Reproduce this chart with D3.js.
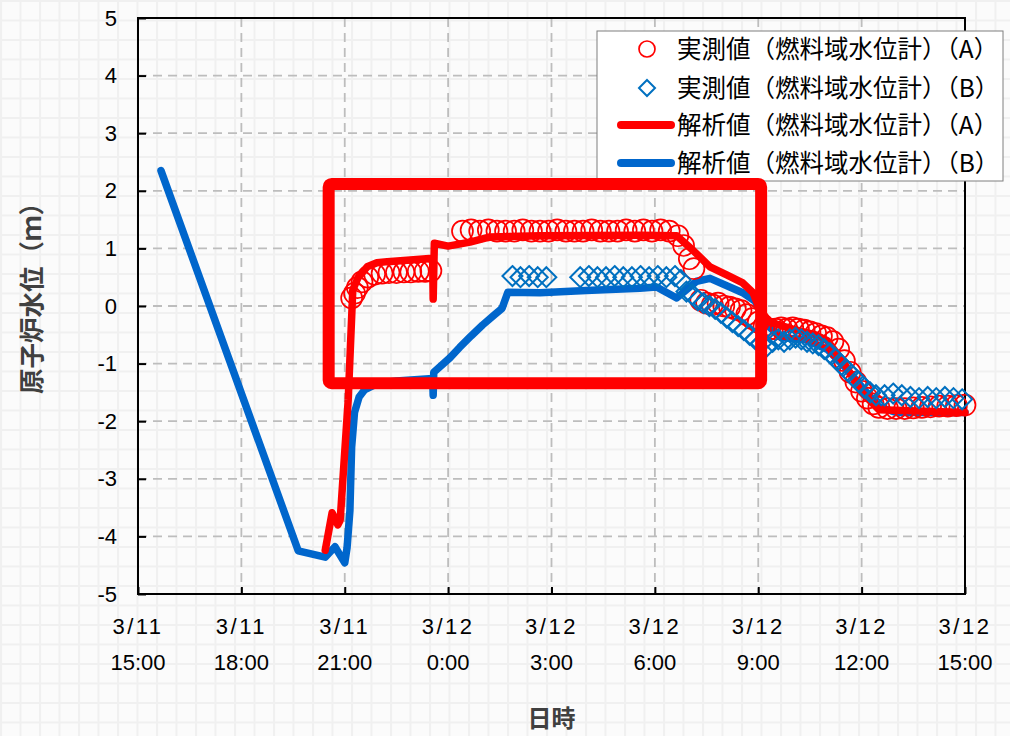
<!DOCTYPE html>
<html>
<head>
<meta charset="utf-8">
<script src="https://cdn.jsdelivr.net/npm/d3@7"></script>
<style>
  body { margin: 0; background: #fafafa; }
  svg { display: block; }
</style>
</head>
<body>
<script>
// analysis (line) and measured (marker) series, [time, level m]
const lineA = [
  ["3/11 20:26", -4.24], ["3/11 20:38", -3.59], ["3/11 20:48", -3.80], ["3/11 20:52", -3.72],
  ["3/11 21:06", -1.63], ["3/11 21:14", 0.28], ["3/11 21:23", 0.49], ["3/11 21:39", 0.68],
  ["3/11 21:56", 0.75], ["3/11 22:14", 0.77], ["3/11 22:54", 0.80], ["3/11 23:33", 0.83],
  ["3/11 23:34", 0.12], ["3/11 23:36", 1.09], ["3/12 0:00", 1.04], ["3/12 0:38", 1.11],
  ["3/12 1:13", 1.20], ["3/12 2:40", 1.22], ["3/12 5:34", 1.23], ["3/12 6:38", 1.22],
  ["3/12 7:06", 0.97], ["3/12 7:36", 0.68], ["3/12 8:05", 0.54], ["3/12 8:33", 0.40],
  ["3/12 8:51", 0.23], ["3/12 9:03", -0.07], ["3/12 9:20", -0.28], ["3/12 10:00", -0.40],
  ["3/12 10:40", -0.50], ["3/12 11:00", -0.60], ["3/12 11:30", -1.00], ["3/12 12:00", -1.50],
  ["3/12 12:30", -1.80], ["3/12 15:00", -1.85]
];
const lineB = [
  ["3/11 15:40", 2.35], ["3/11 19:39", -4.25], ["3/11 20:26", -4.36], ["3/11 20:43", -4.18],
  ["3/11 21:00", -4.46], ["3/11 21:04", -4.20], ["3/11 21:09", -3.55], ["3/11 21:12", -2.45],
  ["3/11 21:17", -1.85], ["3/11 21:25", -1.58], ["3/11 21:35", -1.45], ["3/11 21:56", -1.35],
  ["3/11 22:30", -1.30], ["3/11 23:33", -1.26], ["3/11 23:34", -1.55], ["3/11 23:35", -1.15],
  ["3/12 0:03", -0.90], ["3/12 0:20", -0.72], ["3/12 0:40", -0.52], ["3/12 1:00", -0.33],
  ["3/12 1:20", -0.16], ["3/12 1:34", -0.04], ["3/12 1:44", 0.24], ["3/12 2:40", 0.23],
  ["3/12 4:00", 0.27], ["3/12 5:34", 0.31], ["3/12 6:03", 0.33], ["3/12 6:38", 0.14],
  ["3/12 7:13", 0.43], ["3/12 7:36", 0.48], ["3/12 8:33", 0.23], ["3/12 8:55", 0.08],
  ["3/12 9:12", -0.30], ["3/12 9:40", -0.55], ["3/12 10:20", -0.58], ["3/12 11:00", -0.75],
  ["3/12 11:30", -1.05], ["3/12 12:00", -1.40], ["3/12 12:30", -1.75], ["3/12 13:00", -1.85],
  ["3/12 15:00", -1.85]
];
const measA = [
  ["3/11 21:12", 0.14], ["3/11 21:17", 0.22], ["3/11 21:22", 0.32], ["3/11 21:30", 0.42],
  ["3/11 21:40", 0.50], ["3/11 21:52", 0.55], ["3/11 22:05", 0.57], ["3/11 22:17", 0.58],
  ["3/11 22:30", 0.58], ["3/11 22:43", 0.59], ["3/11 22:55", 0.59], ["3/11 23:08", 0.60],
  ["3/11 23:20", 0.60], ["3/11 23:30", 0.61],
  ["3/12 0:25", 1.30], ["3/12 0:40", 1.32], ["3/12 0:55", 1.30], ["3/12 1:10", 1.32],
  ["3/12 1:25", 1.30], ["3/12 1:40", 1.30], ["3/12 1:55", 1.30], ["3/12 2:10", 1.32],
  ["3/12 2:25", 1.30], ["3/12 2:40", 1.30], ["3/12 2:55", 1.30], ["3/12 3:10", 1.32],
  ["3/12 3:25", 1.30], ["3/12 3:40", 1.30], ["3/12 3:55", 1.30], ["3/12 4:10", 1.32],
  ["3/12 4:25", 1.30], ["3/12 4:40", 1.30], ["3/12 4:55", 1.30], ["3/12 5:10", 1.32],
  ["3/12 5:25", 1.30], ["3/12 5:40", 1.32], ["3/12 5:55", 1.30], ["3/12 6:10", 1.32],
  ["3/12 6:25", 1.30], ["3/12 6:40", 1.22], ["3/12 6:50", 1.05], ["3/12 7:00", 0.82],
  ["3/12 7:08", 0.65], ["3/12 7:20", 0.10], ["3/12 7:30", 0.05], ["3/12 7:40", 0.02],
  ["3/12 7:50", 0.05], ["3/12 8:00", 0.00], ["3/12 8:10", -0.02], ["3/12 8:20", -0.05],
  ["3/12 8:30", -0.08], ["3/12 8:40", -0.15], ["3/12 8:50", -0.22], ["3/12 9:00", -0.28],
  ["3/12 9:10", -0.35], ["3/12 9:20", -0.40], ["3/12 9:30", -0.40], ["3/12 9:40", -0.38],
  ["3/12 9:50", -0.40], ["3/12 10:00", -0.38], ["3/12 10:10", -0.40], ["3/12 10:20", -0.42],
  ["3/12 10:30", -0.45], ["3/12 10:40", -0.48], ["3/12 10:50", -0.52], ["3/12 11:00", -0.55],
  ["3/12 11:10", -0.62], ["3/12 11:20", -0.75], ["3/12 11:30", -0.95], ["3/12 11:40", -1.15],
  ["3/12 11:50", -1.32], ["3/12 12:00", -1.48], ["3/12 12:10", -1.60], ["3/12 12:20", -1.70],
  ["3/12 12:30", -1.76], ["3/12 12:45", -1.78], ["3/12 13:00", -1.78], ["3/12 13:15", -1.78],
  ["3/12 13:30", -1.77], ["3/12 13:45", -1.76], ["3/12 14:00", -1.75], ["3/12 14:15", -1.74],
  ["3/12 14:30", -1.74], ["3/12 14:45", -1.73], ["3/12 15:00", -1.72]
];
const measB = [
  ["3/12 1:52", 0.52], ["3/12 2:06", 0.50], ["3/12 2:21", 0.52], ["3/12 2:36", 0.50],
  ["3/12 2:51", 0.50], ["3/12 3:50", 0.50], ["3/12 4:05", 0.52], ["3/12 4:20", 0.50],
  ["3/12 4:35", 0.50], ["3/12 4:50", 0.52], ["3/12 5:05", 0.50], ["3/12 5:20", 0.50],
  ["3/12 5:35", 0.52], ["3/12 5:50", 0.50], ["3/12 6:05", 0.52], ["3/12 6:20", 0.50],
  ["3/12 6:35", 0.52], ["3/12 6:45", 0.45], ["3/12 6:55", 0.25], ["3/12 7:05", 0.20],
  ["3/12 7:15", 0.10], ["3/12 7:25", 0.05], ["3/12 7:35", 0.00], ["3/12 7:45", -0.05],
  ["3/12 7:55", -0.12], ["3/12 8:05", -0.20], ["3/12 8:15", -0.28], ["3/12 8:25", -0.35],
  ["3/12 8:35", -0.42], ["3/12 8:45", -0.50], ["3/12 8:55", -0.58], ["3/12 9:05", -0.65],
  ["3/12 9:15", -0.70], ["3/12 9:25", -0.62], ["3/12 9:35", -0.58], ["3/12 9:45", -0.62],
  ["3/12 9:55", -0.58], ["3/12 10:05", -0.55], ["3/12 10:15", -0.58], ["3/12 10:25", -0.62],
  ["3/12 10:35", -0.65], ["3/12 10:45", -0.68], ["3/12 10:55", -0.75], ["3/12 11:05", -0.82],
  ["3/12 11:15", -0.92], ["3/12 11:25", -1.02], ["3/12 11:35", -1.12], ["3/12 11:45", -1.22],
  ["3/12 11:55", -1.32], ["3/12 12:05", -1.42], ["3/12 12:15", -1.50], ["3/12 12:25", -1.55],
  ["3/12 12:40", -1.55], ["3/12 12:55", -1.52], ["3/12 13:10", -1.55], ["3/12 13:25", -1.58],
  ["3/12 13:40", -1.60], ["3/12 13:55", -1.58], ["3/12 14:10", -1.60], ["3/12 14:25", -1.58],
  ["3/12 14:40", -1.60], ["3/12 14:55", -1.62]
];
const yTicks = [-5, -4, -3, -2, -1, 0, 1, 2, 3, 4, 5];
const legendLabels = [
  "実測値（燃料域水位計）（A）",
  "実測値（燃料域水位計）（B）",
  "解析値（燃料域水位計）（A）",
  "解析値（燃料域水位計）（B）"
];
// highlighted period (red box)
const boxFrom = "3/11 20:32", boxTo = "3/12 9:05", boxTop = 2.12, boxBottom = -1.34;

const W = 1010, H = 736;
const mLeft = 138, mRight = 965, mTop = 18, mBottom = 594;
const RED = "#ff0000", BLUE = "#0066cc";

const parse = d3.timeParse("%m/%d %H:%M");
const x = d3.scaleTime()
  .domain([parse("3/11 15:00"), parse("3/12 15:00")])
  .range([mLeft, mRight]);
const y = d3.scaleLinear().domain([-5, 5]).range([mBottom, mTop]);

const svg = d3.select("body").append("svg")
  .attr("width", W).attr("height", H);

// graph-paper background
const pat = svg.append("defs").append("pattern")
  .attr("id", "paper").attr("patternUnits", "userSpaceOnUse")
  .attr("width", 19.5).attr("height", 19.5);
pat.append("rect").attr("width", 19.5).attr("height", 19.5).attr("fill", "#fbfbfb");
pat.append("path").attr("d", "M0,1H19.5M1,0V19.5")
  .attr("stroke", "#f0f0f0").attr("stroke-width", 2);
svg.append("rect").attr("width", W).attr("height", H).attr("fill", "url(#paper)");

// dashed gridlines
const xTicks = x.ticks(d3.timeHour.every(3));
svg.append("g").selectAll("line")
  .data(yTicks.slice(1, -1)).join("line")
  .attr("x1", mLeft).attr("x2", mRight)
  .attr("y1", d => y(d)).attr("y2", d => y(d))
  .attr("stroke", "#bdbdbd").attr("stroke-width", 1.8).attr("stroke-dasharray", "9,6");
svg.append("g").selectAll("line")
  .data(xTicks.slice(1, -1)).join("line")
  .attr("x1", d => x(d)).attr("x2", d => x(d))
  .attr("y1", mTop).attr("y2", mBottom)
  .attr("stroke", "#bdbdbd").attr("stroke-width", 1.8).attr("stroke-dasharray", "9,6");

// axes
const yAxis = svg.append("g")
  .attr("transform", "translate(" + mLeft + ",0)")
  .call(d3.axisLeft(y).tickValues(yTicks).tickSize(-8).tickPadding(21).tickFormat(d => String(d)));
const xAxis = svg.append("g")
  .attr("transform", "translate(0," + mBottom + ")")
  .call(d3.axisBottom(x).tickValues(xTicks).tickSize(-7).tickFormat(""));
[yAxis, xAxis].forEach(g => {
  g.select(".domain").remove();
  g.selectAll("line").attr("stroke", "#000").attr("stroke-width", 2);
});
yAxis.selectAll("text")
  .attr("font-family", "'Liberation Sans', Arial, sans-serif")
  .attr("font-size", 22).attr("fill", "#000");

const fmtDay = d3.timeFormat("%-m/%-d"), fmtHour = d3.timeFormat("%-H:%M");
const xl = svg.append("g").selectAll("text").data(xTicks).join("text")
  .attr("text-anchor", "middle")
  .attr("font-family", "'Liberation Sans', Arial, sans-serif")
  .attr("font-size", 22).attr("fill", "#000");
xl.append("tspan").attr("x", d => x(d)).attr("y", 634)
  .attr("letter-spacing", 2.5).text(d => fmtDay(d));
xl.append("tspan").attr("x", d => x(d)).attr("y", 670).text(d => fmtHour(d));

// frame
svg.append("rect")
  .attr("x", mLeft).attr("y", mTop).attr("width", mRight - mLeft).attr("height", mBottom - mTop)
  .attr("fill", "none").attr("stroke", "#000").attr("stroke-width", 2);

// axis titles
svg.append("text")
  .attr("transform", "translate(41,292) rotate(-90)")
  .attr("text-anchor", "middle")
  .attr("font-family", "'Noto Sans CJK JP', sans-serif")
  .attr("font-size", 25.5).attr("font-weight", "bold").attr("fill", "#404040")
  .text("原子炉水位（ｍ）");
svg.append("text")
  .attr("x", (mLeft + mRight) / 2).attr("y", 727)
  .attr("text-anchor", "middle")
  .attr("font-family", "'Noto Sans CJK JP', sans-serif")
  .attr("font-size", 24).attr("font-weight", "bold").attr("fill", "#404040")
  .text("日時");

// series
const line = d3.line().x(d => x(parse(d[0]))).y(d => y(d[1]));
svg.append("path").datum(lineB).attr("d", line)
  .attr("fill", "none").attr("stroke", BLUE).attr("stroke-width", 7.5)
  .attr("stroke-linejoin", "round").attr("stroke-linecap", "round");
svg.append("path").datum(lineA).attr("d", line)
  .attr("fill", "none").attr("stroke", RED).attr("stroke-width", 7.5)
  .attr("stroke-linejoin", "round").attr("stroke-linecap", "round");

svg.append("g").selectAll("circle").data(measA).join("circle")
  .attr("cx", d => x(parse(d[0]))).attr("cy", d => y(d[1])).attr("r", 10.5)
  .attr("fill", "none").attr("stroke", RED).attr("stroke-width", 1.7);

const diamond = "M0,-10L10,0L0,10L-10,0Z";
svg.append("g").selectAll("path").data(measB).join("path")
  .attr("transform", d => "translate(" + x(parse(d[0])) + "," + y(d[1]) + ")")
  .attr("d", diamond)
  .attr("fill", "none").attr("stroke", "#0070c0").attr("stroke-width", 2);

// legend
const lg = svg.append("g");
lg.append("rect").attr("x", 597).attr("y", 31).attr("width", 406).attr("height", 150)
  .attr("fill", "#fff").attr("stroke", "#7f7f7f").attr("stroke-width", 1);
const rowY = [49, 88, 125, 163];
lg.append("circle").attr("cx", 647).attr("cy", rowY[0]).attr("r", 8)
  .attr("fill", "none").attr("stroke", RED).attr("stroke-width", 1.7);
lg.append("path").attr("transform", "translate(647," + rowY[1] + ")")
  .attr("d", "M0,-8L8,0L0,8L-8,0Z")
  .attr("fill", "none").attr("stroke", "#0070c0").attr("stroke-width", 2);
[[rowY[2], RED], [rowY[3], BLUE]].forEach(r => {
  lg.append("line").attr("x1", 621).attr("x2", 671).attr("y1", r[0]).attr("y2", r[0])
    .attr("stroke", r[1]).attr("stroke-width", 8).attr("stroke-linecap", "round");
});
lg.selectAll("text.lab").data(legendLabels).join("text")
  .attr("class", "lab")
  .attr("x", 677).attr("y", (d, i) => rowY[i] + 8.5)
  .attr("font-family", "'Noto Sans CJK JP', sans-serif")
  .attr("font-size", 24.5).attr("fill", "#000")
  .text(d => d);

// highlight box
svg.append("rect")
  .attr("x", x(parse(boxFrom))).attr("y", y(boxTop))
  .attr("width", x(parse(boxTo)) - x(parse(boxFrom)))
  .attr("height", y(boxBottom) - y(boxTop))
  .attr("rx", 3)
  .attr("fill", "none").attr("stroke", RED).attr("stroke-width", 12);
</script>
</body>
</html>
